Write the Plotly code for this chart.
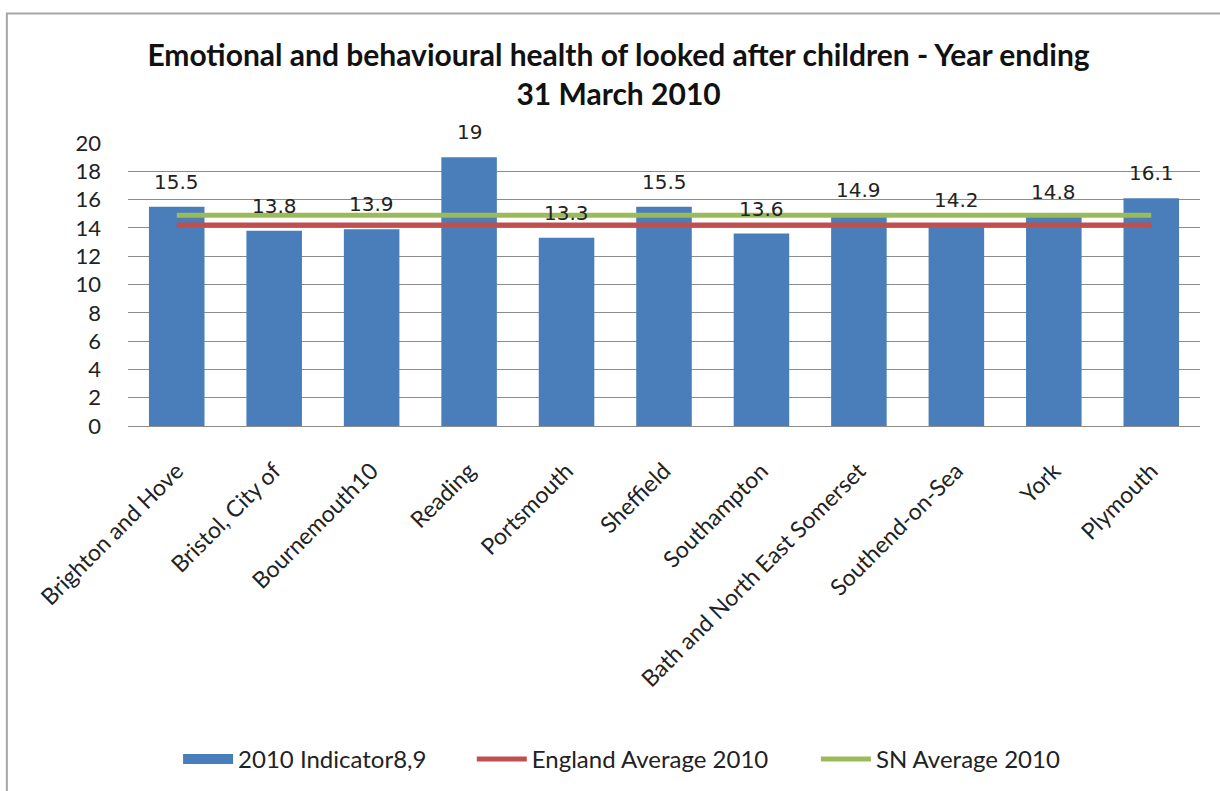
import plotly.graph_objects as go

# Local authorities and indicator values
areas = ["Brighton and Hove", "Bristol, City of", "Bournemouth10", "Reading", "Portsmouth",
         "Sheffield", "Southampton", "Bath and North East Somerset", "Southend-on-Sea",
         "York", "Plymouth"]
indicator_2010 = [15.5, 13.8, 13.9, 19, 13.3, 15.5, 13.6, 14.9, 14.2, 14.8, 16.1]
england_avg_2010 = [14.2] * len(areas)
sn_avg_2010 = [14.9] * len(areas)
y_ticks = [0, 2, 4, 6, 8, 10, 12, 14, 16, 18, 20]

BLUE = "#4A7EBB"
RED = "#C0504D"
GREEN = "#9BBB59"
LABEL_FONT = "Lato, 'Open Sans', sans-serif"
VALUE_FONT = "'DejaVu Sans', Verdana, sans-serif"

fig = go.Figure()
fig.add_trace(go.Bar(x=areas, y=indicator_2010, name="2010 Indicator8,9",
                     marker=dict(color=BLUE, line=dict(width=0)), showlegend=False))
# wide blue key swatch for the bars
fig.add_trace(go.Scatter(x=[None], y=[None], name="2010 Indicator8,9", mode="lines",
                         line=dict(color=BLUE, width=14), legend="legend", hoverinfo="skip"))
fig.add_trace(go.Scatter(x=areas, y=england_avg_2010, name="England Average 2010",
                         mode="lines", line=dict(color=RED, width=5), legend="legend2"))
fig.add_trace(go.Scatter(x=areas, y=sn_avg_2010, name="SN Average 2010",
                         mode="lines", line=dict(color=GREEN, width=5), legend="legend3"))

# value labels above each bar
annotations = [
    dict(x=a, y=v, text=f"{v:g}", showarrow=False, yanchor="middle", yshift=25,
         font=dict(family=VALUE_FONT, size=20, color="#222222"))
    for a, v in zip(areas, indicator_2010)
]

legend_style = dict(orientation="h", y=-1.17, yanchor="middle", xanchor="left",
                    font=dict(family=LABEL_FONT, size=24, color="#222222"),
                    itemwidth=50, bgcolor="rgba(0,0,0,0)")

fig.update_layout(
    width=1220, height=791,
    margin=dict(l=128, r=20, t=143, b=364),
    paper_bgcolor="white", plot_bgcolor="white",
    title=dict(text="<b>Emotional and behavioural health of looked after children - Year ending<br>31 March 2010</b>",
               x=0.507, xanchor="center", y=0.917, yanchor="top",
               font=dict(family=LABEL_FONT, size=30, color="#111111")),
    bargap=0.43,
    showlegend=True,
    legend=dict(x=0.0467, **legend_style),
    legend2=dict(x=0.3207, **legend_style),
    legend3=dict(x=0.6417, **legend_style),
    annotations=annotations,
    shapes=[dict(type="rect", xref="paper", yref="paper",
                 x0=-0.113, x1=1.2, y0=-1.5, y1=1.458,
                 line=dict(color="#A6A6A6", width=2), fillcolor="rgba(0,0,0,0)", layer="below")],
)
fig.update_xaxes(tickangle=-45, showgrid=False, showline=False, ticks="", ticklabelstandoff=26,
                 tickfont=dict(family=LABEL_FONT, size=23, color="#222222"))
fig.update_yaxes(range=[0, 20], tickvals=y_ticks, showgrid=True, gridcolor="#8C8C8C", gridwidth=1,
                 zeroline=True, zerolinecolor="#8C8C8C", zerolinewidth=1, showline=False,
                 ticks="", ticklabelstandoff=26,
                 tickfont=dict(family=LABEL_FONT, size=22, color="#222222"))

fig.write_html("out.html")
